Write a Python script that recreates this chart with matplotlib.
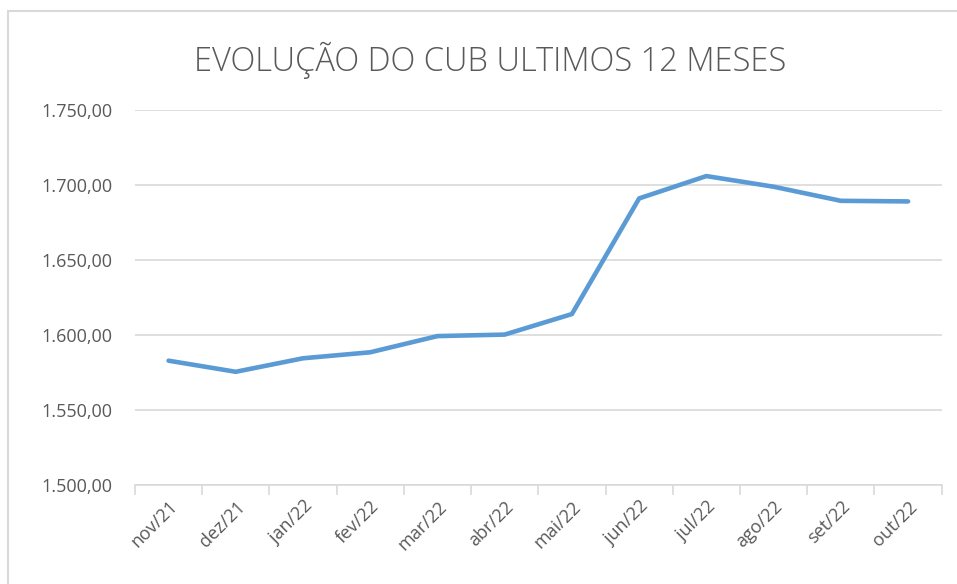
import matplotlib.pyplot as plt
from matplotlib.ticker import FuncFormatter, FixedLocator
from matplotlib.patches import Rectangle

# Data
meses = ['nov/21', 'dez/21', 'jan/22', 'fev/22', 'mar/22', 'abr/22',
         'mai/22', 'jun/22', 'jul/22', 'ago/22', 'set/22', 'out/22']
cub = [1582.9, 1575.5, 1584.5, 1588.5, 1599.3, 1600.3,
       1614.0, 1691.1, 1706.0, 1698.9, 1689.5, 1689.1]
y_ticks = [1500, 1550, 1600, 1650, 1700, 1750]

cinza = '#595959'
grade = '#d9d9d9'

plt.rcParams['font.family'] = ['Open Sans', 'DejaVu Sans']

fig = plt.figure(figsize=(9.57, 5.84), dpi=100)
ax = fig.add_axes([0.141, 0.1695, 0.843, 0.642])

# Outer chart border
fig.patches.append(Rectangle((8 / 957, -0.1), 1.2, 1 - 11 / 584 + 0.1,
                             transform=fig.transFigure, fill=False,
                             edgecolor='#d9d9d9', linewidth=1.5))

x = list(range(len(meses)))
ax.plot(x, cub, color='#5B9BD5', linewidth=3.3, solid_capstyle='round',
        solid_joinstyle='round', zorder=3)

ax.set_xlim(-0.5, len(meses) - 0.5)
ax.set_ylim(1500, 1750)
ax.set_yticks(y_ticks)
ax.yaxis.set_major_formatter(FuncFormatter(
    lambda v, p: '{:,.2f}'.format(v).replace(',', 'X').replace('.', ',').replace('X', '.')))
ax.grid(axis='y', color=grade, linewidth=1.2)
ax.set_axisbelow(True)

ax.set_xticks(x)
ax.set_xticklabels(meses, rotation=45, ha='right', va='top', rotation_mode='anchor')
ax.xaxis.set_minor_locator(FixedLocator([i - 0.5 for i in range(len(meses) + 1)]))
ax.tick_params(axis='x', which='major', length=0, pad=9, labelsize=13, labelcolor=cinza)
ax.tick_params(axis='x', which='minor', length=7, color=grade, width=1.2)
ax.tick_params(axis='y', length=0, pad=16, labelsize=13, labelcolor=cinza)

for s in ['top', 'right', 'left']:
    ax.spines[s].set_visible(False)
ax.spines['bottom'].set_color(grade)
ax.spines['bottom'].set_linewidth(1.2)

fig.text(0.512, 0.897, 'EVOLUÇÃO DO CUB ULTIMOS 12 MESES', ha='center', va='center',
         fontsize=23.5, color=cinza, fontweight='light')

fig.savefig('out.png', dpi=100, facecolor='white')
